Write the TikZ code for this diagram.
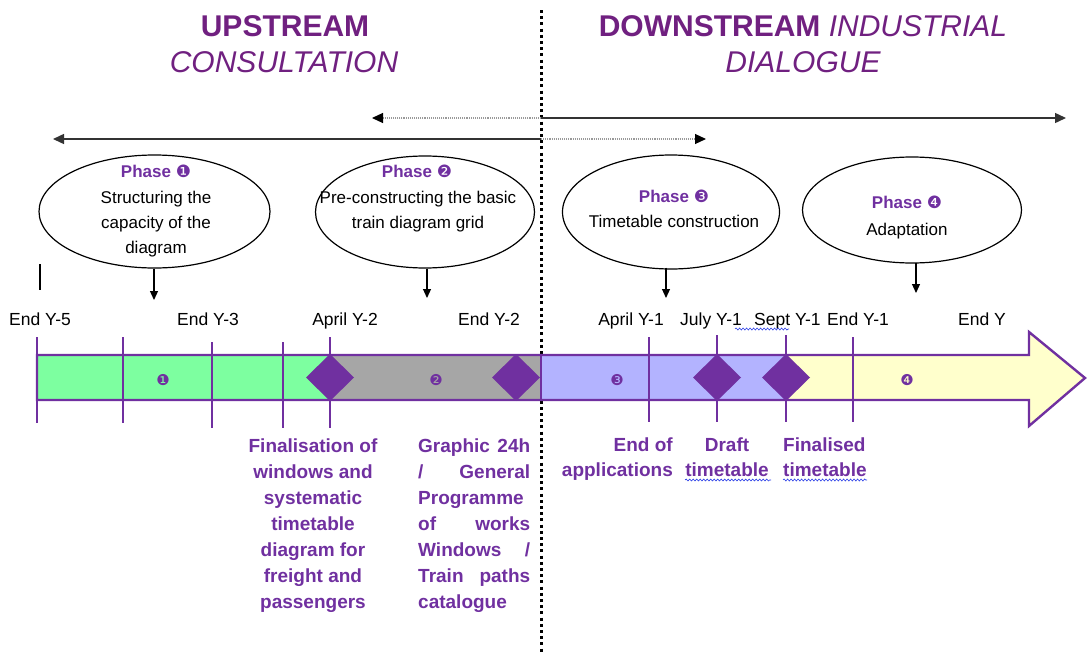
\documentclass[tikz,border=0pt]{standalone}
\usepackage{fontspec}
\setmainfont{Liberation Sans}
\newfontfamily\dejavu{DejaVu Sans}
\usetikzlibrary{arrows.meta,shapes.geometric,decorations.pathmorphing}
\definecolor{ttl}{RGB}{112,32,128}
\definecolor{pur}{RGB}{112,48,160}
\definecolor{grn}{RGB}{125,255,160}
\definecolor{gry}{RGB}{166,166,166}
\definecolor{lav}{RGB}{179,179,255}
\definecolor{ylw}{RGB}{255,255,204}
\definecolor{wavy}{RGB}{40,60,230}
\newcommand{\cn}[1]{{\dejavu\mdseries #1}}
\begin{document}
\begin{tikzpicture}[x=1pt,y=-1pt,
  title/.style={inner sep=0, anchor=base, text=ttl, font=\fontsize{30}{36}\selectfont},
  ell/.style={draw=black, line width=1.2pt, ellipse, inner sep=0},
  ph/.style={inner sep=0, anchor=base, text=pur, font=\bfseries\fontsize{17}{25}\selectfont},
  ptxt/.style={inner sep=0, anchor=base, text=black, font=\fontsize{17}{25}\selectfont},
  date/.style={inner sep=0, anchor=base, text=black, font=\fontsize{17.5}{25}\selectfont},
  lbl/.style={inner sep=0, text=pur, font=\bfseries\fontsize{19}{26}\selectfont},
  dn/.style={draw=black, line width=1.2pt, -{Triangle[length=9pt,width=8pt]}},
  longarr/.style={draw=black!80, line width=1.4pt, -{Triangle[length=11pt,width=10pt]}},
  dotarr/.style={draw=black!40, line width=1.1pt, dash pattern=on 1.1pt off 1pt, -{Triangle[length=11pt,width=10pt,color=black,fill=black]}},
  tick/.style={draw=pur, line width=2.4pt},
  dia/.style={fill=pur, draw=none},
  barnum/.style={inner sep=0, text=pur, font=\fontsize{15}{15}\selectfont},
  squig/.style={draw=wavy, line width=0.6pt, decorate, decoration={snake, amplitude=1pt, segment length=3.5pt}}
]
\useasboundingbox (0,0) rectangle (1087,653);

% titles
\node[title, font=\bfseries\fontsize{30}{36}\selectfont] (up1) at (285,36) {UPSTREAM};
\node[title, font=\itshape\fontsize{30}{36}\selectfont] (up2) at (284,72) {CONSULTATION};
\node[title] (dn1) at (803,36) {\textbf{DOWNSTREAM} \textit{INDUSTRIAL}};
\node[title, font=\itshape\fontsize{30}{36}\selectfont] (dn2) at (803,72) {DIALOGUE};

% separator
\coordinate (sepT) at (541,10);
\coordinate (sepB) at (541,653);
\draw[black, line width=3pt, dash pattern=on 3pt off 3.2pt] (sepT) -- (sepB);

% long arrows
\coordinate (m1) at (541,118);
\coordinate (l1) at (372,118);
\coordinate (r1) at (1066,118);
\coordinate (m2) at (541,139);
\coordinate (l2) at (53,139);
\coordinate (r2) at (706,139);
\draw[dotarr] (m1) -- (l1);
\draw[longarr] (m1) -- (r1);
\draw[longarr] (m2) -- (l2);
\draw[dotarr] (m2) -- (r2);

% ellipses
\node[ell, minimum width=231, minimum height=113] (e1) at (154.5,211.5) {};
\node[ell, minimum width=219, minimum height=112] (e2) at (425,212) {};
\node[ell, minimum width=217, minimum height=114] (e3) at (671,212) {};
\node[ell, minimum width=219, minimum height=106] (e4) at (912,210) {};

\node[ph] (p1) at (156,177) {Phase \cn{❶}};
\node[ptxt] (p1a) at (156,203) {Structuring the};
\node[ptxt] (p1b) at (156,228) {capacity of the};
\node[ptxt] (p1c) at (156,253) {diagram};

\node[ph] (p2) at (417,177) {Phase \cn{❷}};
\node[ptxt] (p2a) at (418,203) {Pre-constructing the basic};
\node[ptxt] (p2b) at (418,228) {train diagram grid};

\node[ph] (p3) at (674,202) {Phase \cn{❸}};
\node[ptxt] (p3a) at (674,227) {Timetable construction};

\node[ph] (p4) at (907,208) {Phase \cn{❹}};
\node[ptxt] (p4a) at (907,235) {Adaptation};

% down arrows
\coordinate (a1) at (154,300);
\coordinate (a2) at (427,298);
\coordinate (a3) at (666,298);
\coordinate (a4) at (916,293);
\draw[dn] (e1.south -| a1) -- (a1);
\draw[dn] (e2.south -| a2) -- (a2);
\draw[dn] (e3.south -| a3) ++(0,-2) -- (a3);
\draw[dn] (e4.south -| a4) ++(0,-1) -- (a4);

% small tick
\coordinate (s1) at (40,264);
\coordinate (s2) at (40,290);
\draw[black, line width=1.2pt] (s1) -- (s2);

% dates
\node[date] (d1) at (40,325) {End Y-5};
\node[date] (d2) at (208,325) {End Y-3};
\node[date] (d3) at (345,325) {April Y-2};
\node[date] (d4) at (489,325) {End Y-2};
\node[date] (d5) at (631,325) {April Y-1};
\node[date, anchor=base west] (d6) at (680,325) {July Y-1};
\node[date, anchor=base west] (d7) at (754,325) {Sept Y-1};
\node[date, anchor=base west] (d8) at (827,325) {End Y-1};
\node[date] (d9) at (982,325) {End Y};
\coordinate (w1a) at (735,329);
\coordinate (w1b) at (789,329);
\draw[squig] (w1a) -- (w1b);

% timeline bar
\fill[grn] (37,355) rectangle (330,400);
\fill[gry] (330,355) rectangle (541,400);
\fill[lav] (541,355) rectangle (786,400);
\fill[ylw] (786,355) rectangle (1029,400);
\fill[ylw] (1029,332) -- (1085,378) -- (1029,426) -- cycle;
\draw[pur, line width=2.4pt, line join=miter]
  (37,355) -- (1029,355) -- (1029,332) -- (1085,378) -- (1029,426) -- (1029,400) -- (37,400) -- cycle;
\draw[pur, line width=1.5pt] (541,355) -- (541,400);

% ticks
\draw[tick] (37,337) -- (37,423);
\draw[tick] (123,337) -- (123,423);
\draw[tick] (212,342) -- (212,428);
\draw[tick] (283,342) -- (283,428);
\draw[tick] (330,337) -- (330,428);
\draw[tick] (649,337) -- (649,422);
\draw[tick] (717,335) -- (717,422);
\draw[tick] (786,335) -- (786,422);
\draw[tick] (853,337) -- (853,422);

% diamonds
\fill[dia] (306,377.5) -- (330,354) -- (354,377.5) -- (330,401) -- cycle;
\fill[dia] (492,377.5) -- (516,354) -- (540,377.5) -- (516,401) -- cycle;
\fill[dia] (693,377.5) -- (717,354) -- (741,377.5) -- (717,401) -- cycle;
\fill[dia] (762,377.5) -- (786,354) -- (810,377.5) -- (786,401) -- cycle;

% bar numbers
\node[barnum] (n1) at (163,380) {\dejavu ❶};
\node[barnum] (n2) at (436,380) {\dejavu ❷};
\node[barnum] (n3) at (617,380) {\dejavu ❸};
\node[barnum] (n4) at (907,380) {\dejavu ❹};

% bottom labels
\node[lbl, anchor=base] (f1) at (313,452) {Finalisation of};
\node[lbl, anchor=base] (f2) at (313,478) {windows and};
\node[lbl, anchor=base] (f3) at (313,504) {systematic};
\node[lbl, anchor=base] (f4) at (313,530) {timetable};
\node[lbl, anchor=base] (f5) at (313,556) {diagram for};
\node[lbl, anchor=base] (f6) at (313,582) {freight and};
\node[lbl, anchor=base] (f7) at (313,608) {passengers};

\node[lbl, anchor=base west] (g1) at (418,452) {\makebox[112pt][s]{Graphic 24h}};
\node[lbl, anchor=base west] (g2) at (418,478) {\makebox[112pt][s]{/ General}};
\node[lbl, anchor=base west] (g3) at (418,504) {Programme};
\node[lbl, anchor=base west] (g4) at (418,530) {\makebox[112pt][s]{of works}};
\node[lbl, anchor=base west] (g5) at (418,556) {\makebox[112pt][s]{Windows /}};
\node[lbl, anchor=base west] (g6) at (418,582) {\makebox[112pt][s]{Train paths}};
\node[lbl, anchor=base west] (g7) at (418,608) {catalogue};

\node[lbl, anchor=base east] (h1) at (673,451) {End of};
\node[lbl, anchor=base east] (h2) at (673,476) {applications};
\node[lbl, anchor=base] (k1) at (727,451) {Draft};
\node[lbl, anchor=base] (k2) at (727,476) {timetable};
\node[lbl, anchor=base west] (q1) at (783,451) {Finalised};
\node[lbl, anchor=base west] (q2) at (783,476) {timetable};
\draw[squig] (k2.base west) ++(0,4) -- ++(86,0);
\draw[squig] (q2.base west) ++(0,4) -- ++(84,0);
\end{tikzpicture}
\end{document}
